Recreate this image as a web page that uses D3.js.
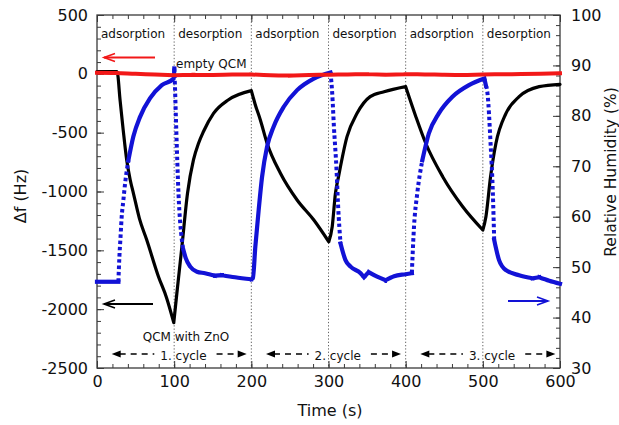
<!DOCTYPE html>
<html>
<head>
<meta charset="utf-8">
<script src="https://cdn.jsdelivr.net/npm/d3@7"></script>
<style>
  body { margin: 0; background: #fff; }
  svg { display: block; font-family: "DejaVu Sans", sans-serif; }
</style>
</head>
<body>
<svg id="chart" width="619" height="425"></svg>
<script>
// Frequency shift of the ZnO-coated crystal, [time (s), Δf (Hz)]
const qcmZnO = [
  [0, 18], [26, 18], [30, -230], [34, -480], [38.5, -733], [43, -900], [47.2, -1015],
  [55, -1230], [64.5, -1412], [79.7, -1724], [90, -1900], [99.5, -2115],
  [103.5, -1865], [110, -1470], [117.3, -1015], [125, -732], [131.6, -590], [138, -490],
  [151, -336], [170, -222], [200, -143],
  [205, -260], [211.7, -392], [220.4, -590], [237.7, -845], [259.3, -1072], [281, -1242], [300.4, -1427],
  [304.8, -1299], [309, -1015], [313, -874], [324, -534], [337, -336], [354, -194], [372, -152], [400, -109],
  [413, -360], [426, -590], [448, -874], [474, -1129], [500, -1327],
  [504, -1214], [510, -874], [517, -590], [530, -336], [547, -194], [573, -109], [600, -89]
];

// Frequency shift of the uncoated crystal, [time (s), Δf (Hz)]
const emptyQCM = [
  [0, 10], [25, 8], [50, 0], [75, -5], [100, -12], [125, -8], [150, -10], [175, -6],
  [200, -5], [225, -12], [250, -15], [275, -10], [300, -8], [325, -5], [350, -3],
  [375, -8], [400, -3], [425, -5], [450, -8], [475, -10], [500, -5], [525, -3],
  [550, -2], [575, 0], [600, 5]
];

// Relative humidity in the cell, [time (s), RH (%)]
const humidity = [
  [0, 47.1], [27.7, 47.1], [29, 52], [30.5, 56], [32, 60], [34, 63], [36.4, 66.6],
  [40.7, 71.2], [47.1, 75.9], [55.8, 79.8], [68.8, 83.5], [84, 86.1], [99.5, 87.4],
  [100.2, 89.4], [101, 86], [102.6, 77.9], [105.6, 64.6], [110, 55.4], [112, 53.4],
  [115, 51.8], [120.8, 50.1], [129.5, 49.1], [140, 48.8], [153, 48.3],
  [162, 48.4], [179, 48], [200, 47.6],
  [202, 47.8], [205.2, 54.1], [209.5, 61.3], [213.9, 67.9], [220.4, 73.9], [229, 77.9],
  [242, 81.8], [259.3, 85.1], [281, 87.4], [302.6, 88.6],
  [304.8, 84.5], [307, 77.9], [310.4, 69.3], [312.5, 62], [315.6, 54.7],
  [322, 51.4], [328.6, 50.1], [341.6, 48.8], [346, 48], [352, 49], [363, 48.1],
  [374, 47.4], [385, 48.2], [400, 48.6], [408, 48.8],
  [410.8, 58], [415, 64.6], [421.6, 71.2], [430, 76.5], [443, 80.5], [460.6, 83.8],
  [482, 86.1], [502, 87.4], [504, 86], [506, 84.5], [510, 74.6], [513, 64.6],
  [514.7, 55.4], [521, 51.4], [530, 49.4], [547, 48.4], [564.5, 47.8], [573, 48],
  [586, 47.3], [600, 46.7]
];

// valve-switching steps where the humidity samples are spread apart, [from, to] (s)
const sparseSpans = [[27.7, 40.7], [100, 112], [302.6, 315.6], [408, 421.6], [504, 514.7]];

const phaseBounds = [100, 200, 300, 400, 500];
const phaseNames = ["adsorption", "desorption", "adsorption", "desorption", "adsorption", "desorption"];
const cycleNames = ["1. cycle", "2. cycle", "3. cycle"];
const cycleStarts = [0, 200, 400];
const freqTicks = [500, 0, -500, -1000, -1500, -2000, -2500];
const humidityTicks = [30, 40, 50, 60, 70, 80, 90, 100];
const timeTicks = [0, 100, 200, 300, 400, 500, 600];

const svg = d3.select("#chart");
const plot = { left: 97, right: 560, top: 15, bottom: 368 };

const x = d3.scaleLinear().domain([0, 600]).range([plot.left, plot.right]);
const yF = d3.scaleLinear().domain([-2500, 500]).range([plot.bottom, plot.top]);
const yH = d3.scaleLinear().domain([30, 100]).range([plot.bottom, plot.top]);

const BLUE = "#1212d6", RED = "#f21818", AXIS = "#3a3a3a";

// phase separators
svg.append("g").selectAll("line").data(phaseBounds).join("line")
  .attr("x1", d => x(d)).attr("x2", d => x(d))
  .attr("y1", plot.top).attr("y2", plot.bottom)
  .attr("stroke", "#666").attr("stroke-width", 1).attr("stroke-dasharray", "1.3,2");

// axes: major ticks with labels, minor ticks without, all pointing inward
function styleAxis(g) {
  g.select(".domain").remove();
  g.selectAll(".tick line").attr("stroke", AXIS).attr("stroke-width", 1);
  g.selectAll(".tick text").attr("fill", "#111").attr("font-size", 16)
    .attr("font-family", "DejaVu Sans, sans-serif");
}
const fmt = d => String(d);

svg.append("g").attr("transform", `translate(${plot.left},0)`)
  .call(d3.axisLeft(yF).tickValues(d3.range(-2500, 501, 100)).tickSize(-4).tickFormat(""))
  .call(styleAxis);
svg.append("g").attr("transform", `translate(${plot.left},0)`)
  .call(d3.axisLeft(yF).tickValues(freqTicks).tickSize(-7).tickPadding(9).tickFormat(fmt))
  .call(styleAxis);

svg.append("g").attr("transform", `translate(${plot.right},0)`)
  .call(d3.axisRight(yH).tickValues(d3.range(30, 101, 2)).tickSize(-4).tickFormat(""))
  .call(styleAxis);
svg.append("g").attr("transform", `translate(${plot.right},0)`)
  .call(d3.axisRight(yH).tickValues(humidityTicks).tickSize(-7).tickPadding(11).tickFormat(fmt))
  .call(styleAxis);

svg.append("g").attr("transform", `translate(0,${plot.bottom})`)
  .call(d3.axisBottom(x).tickValues(d3.range(0, 601, 20)).tickSize(-4).tickFormat(""))
  .call(styleAxis);
svg.append("g").attr("transform", `translate(0,${plot.bottom})`)
  .call(d3.axisBottom(x).tickValues(timeTicks).tickSize(-7).tickPadding(8).tickFormat(fmt))
  .call(styleAxis);

svg.append("g").attr("transform", `translate(0,${plot.top})`)
  .call(d3.axisTop(x).tickValues(d3.range(0, 601, 20)).tickSize(-4).tickFormat(""))
  .call(styleAxis);
svg.append("g").attr("transform", `translate(0,${plot.top})`)
  .call(d3.axisTop(x).tickValues(timeTicks).tickSize(-7).tickFormat(""))
  .call(styleAxis);

// frame
svg.append("rect")
  .attr("x", plot.left).attr("y", plot.top)
  .attr("width", plot.right - plot.left).attr("height", plot.bottom - plot.top)
  .attr("fill", "none").attr("stroke", AXIS).attr("stroke-width", 1.3);

// axis titles
svg.append("text").attr("transform", `translate(26,196) rotate(-90)`)
  .attr("text-anchor", "middle").attr("font-size", 16).attr("fill", "#111").text("Δf (Hz)");
svg.append("text").attr("transform", `translate(616,172) rotate(-90)`)
  .attr("text-anchor", "middle").attr("font-size", 15.5).attr("fill", "#111").text("Relative Humidity (%)");
svg.append("text").attr("x", 330).attr("y", 416)
  .attr("text-anchor", "middle").attr("font-size", 16).attr("fill", "#111").text("Time (s)");

// Smooth within each monotonic stretch, but keep sharp corners where the
// trace turns (valve switching at the phase boundaries).
function monotonePieces(pts) {
  const pieces = [];
  let cur = [pts[0]];
  for (let i = 1; i < pts.length; i++) {
    cur.push(pts[i]);
    if (i < pts.length - 1) {
      const s1 = pts[i][1] - pts[i - 1][1], s2 = pts[i + 1][1] - pts[i][1];
      if (s1 * s2 < 0) { pieces.push(cur); cur = [pts[i]]; }
    }
  }
  pieces.push(cur);
  return pieces;
}
function pathOf(line, pts) {
  return monotonePieces(pts).map(p => line(p)).join("");
}

const freqLine = d3.line().x(d => x(d[0])).y(d => yF(d[1])).curve(d3.curveMonotoneX);
const rhLine = d3.line().x(d => x(d[0])).y(d => yH(d[1])).curve(d3.curveMonotoneX);

svg.append("path").attr("d", pathOf(freqLine, qcmZnO))
  .attr("fill", "none").attr("stroke", "#000").attr("stroke-width", 3.2)
  .attr("stroke-linejoin", "round").attr("stroke-linecap", "round");

// humidity: dense samples merge into a solid trace, the sparse ones on the
// fast steps show as separate dots
const inSparse = t => sparseSpans.some(([a, b]) => t > a && t < b);
const runs = [];
for (let i = 0; i < humidity.length - 1; i++) {
  const a = humidity[i], b = humidity[i + 1];
  const sparse = inSparse((a[0] + b[0]) / 2);
  const last = runs[runs.length - 1];
  if (last && last.sparse === sparse) last.pts.push(b);
  else runs.push({ sparse, pts: [a, b] });
}
svg.append("g").selectAll("path").data(runs).join("path")
  .attr("d", d => pathOf(rhLine, d.pts))
  .attr("fill", "none").attr("stroke", BLUE)
  .attr("stroke-width", d => d.sparse ? 4 : 4.2)
  .attr("stroke-linecap", d => d.sparse ? "butt" : "square")
  .attr("stroke-dasharray", d => d.sparse ? "3.5,2.8" : null);

svg.append("path").attr("d", pathOf(freqLine, emptyQCM))
  .attr("fill", "none").attr("stroke", RED).attr("stroke-width", 4)
  .attr("stroke-linecap", "square");

// phase names
svg.append("g").selectAll("text").data(phaseNames).join("text")
  .attr("x", (d, i) => x(i * 100) + 4).attr("y", 38)
  .attr("font-size", 12).attr("fill", "#111").text(d => d);

// curve annotations
svg.append("text").attr("x", 176).attr("y", 68).attr("font-size", 12).attr("fill", "#111").text("empty QCM");
svg.append("text").attr("x", 186).attr("y", 340.5).attr("text-anchor", "middle")
  .attr("font-size", 12).attr("fill", "#111").text("QCM with ZnO");

// axis-assignment arrows
function plainArrow(x1, x2, y, color) {
  const dir = Math.sign(x2 - x1);
  svg.append("line").attr("x1", x1).attr("x2", x2).attr("y1", y).attr("y2", y)
    .attr("stroke", color).attr("stroke-width", 1.8);
  svg.append("path")
    .attr("d", `M${x2 - dir * 11},${y - 4} L${x2},${y} L${x2 - dir * 11},${y + 4}`)
    .attr("fill", "none").attr("stroke", color).attr("stroke-width", 1.6);
}
plainArrow(155, 104, 57.5, RED);
plainArrow(153, 104, 304, "#000");
plainArrow(508, 548, 301, BLUE);

// cycle spans
const cy = 354;
function head(xTip, dir) {
  svg.append("path")
    .attr("d", `M${xTip},${cy} L${xTip - dir * 9},${cy - 3.5} L${xTip - dir * 9},${cy + 3.5}Z`)
    .attr("fill", "#000");
}
cycleNames.forEach((name, i) => {
  const c0 = cycleStarts[i];
  const t = svg.append("text").attr("x", x(c0 + 112)).attr("y", 359.5)
    .attr("text-anchor", "middle").attr("font-size", 12).attr("fill", "#111").text(name);
  const w = t.node().getComputedTextLength();
  const xs = x(c0 + 112) - w / 2, xe = x(c0 + 112) + w / 2;
  const left = x(c0 + 19), right = x(c0 + 194);
  svg.append("line").attr("x1", left + 8).attr("x2", xs - 6).attr("y1", cy).attr("y2", cy)
    .attr("stroke", "#000").attr("stroke-width", 1.3).attr("stroke-dasharray", "6,5");
  svg.append("line").attr("x1", xe + 10).attr("x2", right - 8).attr("y1", cy).attr("y2", cy)
    .attr("stroke", "#000").attr("stroke-width", 1.3).attr("stroke-dasharray", "6,5");
  head(left, -1);
  head(right, 1);
});
</script>
</body>
</html>
